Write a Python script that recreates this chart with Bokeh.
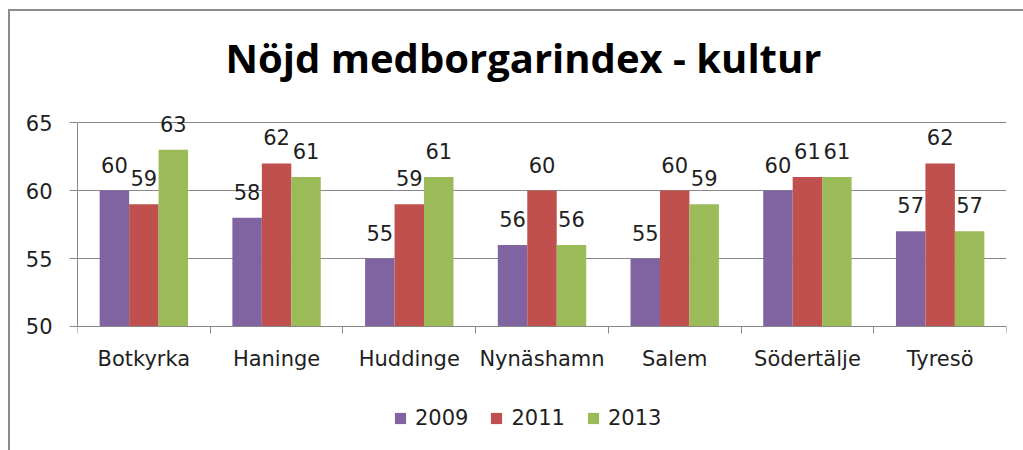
from bokeh.plotting import figure
from bokeh.models import (Range1d, FixedTicker, ColumnDataSource, LabelSet, Legend, LegendItem, Title)
from bokeh.core.properties import value
from bokeh.embed import file_html
from bokeh.resources import INLINE
import numpy as np

categories = ["Botkyrka", "Haninge", "Huddinge", "Nynäshamn", "Salem", "Södertälje", "Tyresö"]
series_names = ["2009", "2011", "2013"]
values_2009 = [60, 58, 55, 56, 55, 60, 57]
values_2011 = [59, 62, 59, 60, 60, 61, 62]
values_2013 = [63, 61, 61, 56, 59, 61, 57]
colors = ["#8064A2", "#C0504D", "#9BBB59"]
y_ticks = [50, 55, 60, 65]

FONT = "DejaVu Sans"
TXT = "#1f1f1f"
GRAY = "#888888"

p = figure(frame_width=929, frame_height=341, output_backend="svg", toolbar_location=None,
           x_range=Range1d(0, len(categories)), y_range=Range1d(41.9, 67),
           min_border_left=67, min_border_right=17, min_border_top=84, min_border_bottom=14,
           title=None)
p.styles = {"margin-left": "8px", "margin-top": "9px",
            "border-top": "2px solid #8c8c8c", "border-left": "2px solid #8c8c8c"}
p.outline_line_color = None
p.background_fill_color = "white"
p.border_fill_color = "white"

t = Title(text="Nöjd medborgarindex - kultur", align="left", text_font="Open Sans",
          text_font_style="bold", text_font_size="40px", text_color="#000000",
          standoff=22, offset=148)
p.add_layout(t, "above")

idx = np.arange(len(categories)) + 0.5
bw = 0.222
all_vals = [values_2009, values_2011, values_2013]
renderers = []
for j, (name, vals, col) in enumerate(zip(series_names, all_vals, colors)):
    xs = idx + (j - 1) * bw
    src = ColumnDataSource(dict(x=xs, top=vals, lab=[str(v) for v in vals]))
    r = p.vbar(x="x", top="top", bottom=50, width=bw, source=src, fill_color=col, line_color=None)
    renderers.append(r)
    ls = LabelSet(x="x", y="top", text="lab", source=src, text_align="center",
                  text_baseline="middle", y_offset=26, text_font=value(FONT),
                  text_font_size=value("21px"), text_color=TXT)
    p.add_layout(ls)

# axes
xa = p.xaxis[0]
xa.fixed_location = 50
xa.ticker = FixedTicker(ticks=list(idx), minor_ticks=list(range(len(categories) + 1)))
xa.major_label_overrides = {float(v): c for v, c in zip(idx, categories)}
xa.major_tick_line_color = None
xa.major_tick_out = 0
xa.major_tick_in = 0
xa.minor_tick_out = 7
xa.minor_tick_in = 0
xa.minor_tick_line_color = GRAY
xa.axis_line_color = GRAY
xa.major_label_standoff = 14
xa.major_label_text_font = FONT
xa.major_label_text_font_size = "21px"
xa.major_label_text_color = TXT

ya = p.yaxis[0]
ya.ticker = FixedTicker(ticks=y_ticks, minor_ticks=[])
ya.bounds = (50, 65)
ya.major_tick_out = 8
ya.major_tick_in = 0
ya.major_tick_line_color = GRAY
ya.minor_tick_line_color = None
ya.axis_line_color = GRAY
ya.major_label_standoff = 17
ya.major_label_text_font = FONT
ya.major_label_text_font_size = "21px"
ya.major_label_text_color = TXT

p.xgrid.grid_line_color = None
p.ygrid.grid_line_color = GRAY
p.ygrid.ticker = FixedTicker(ticks=y_ticks)

legend = Legend(items=[LegendItem(label=n, renderers=[r]) for n, r in zip(series_names, renderers)],
                orientation="horizontal", location=(316, 6), border_line_color=None,
                background_fill_alpha=0, label_text_font=FONT, label_text_font_size="21px",
                label_text_color=TXT, glyph_width=14, glyph_height=14, label_standoff=8,
                spacing=21, padding=0, margin=0)
p.add_layout(legend, "center")

open("out.html", "w").write(file_html(p, INLINE))
